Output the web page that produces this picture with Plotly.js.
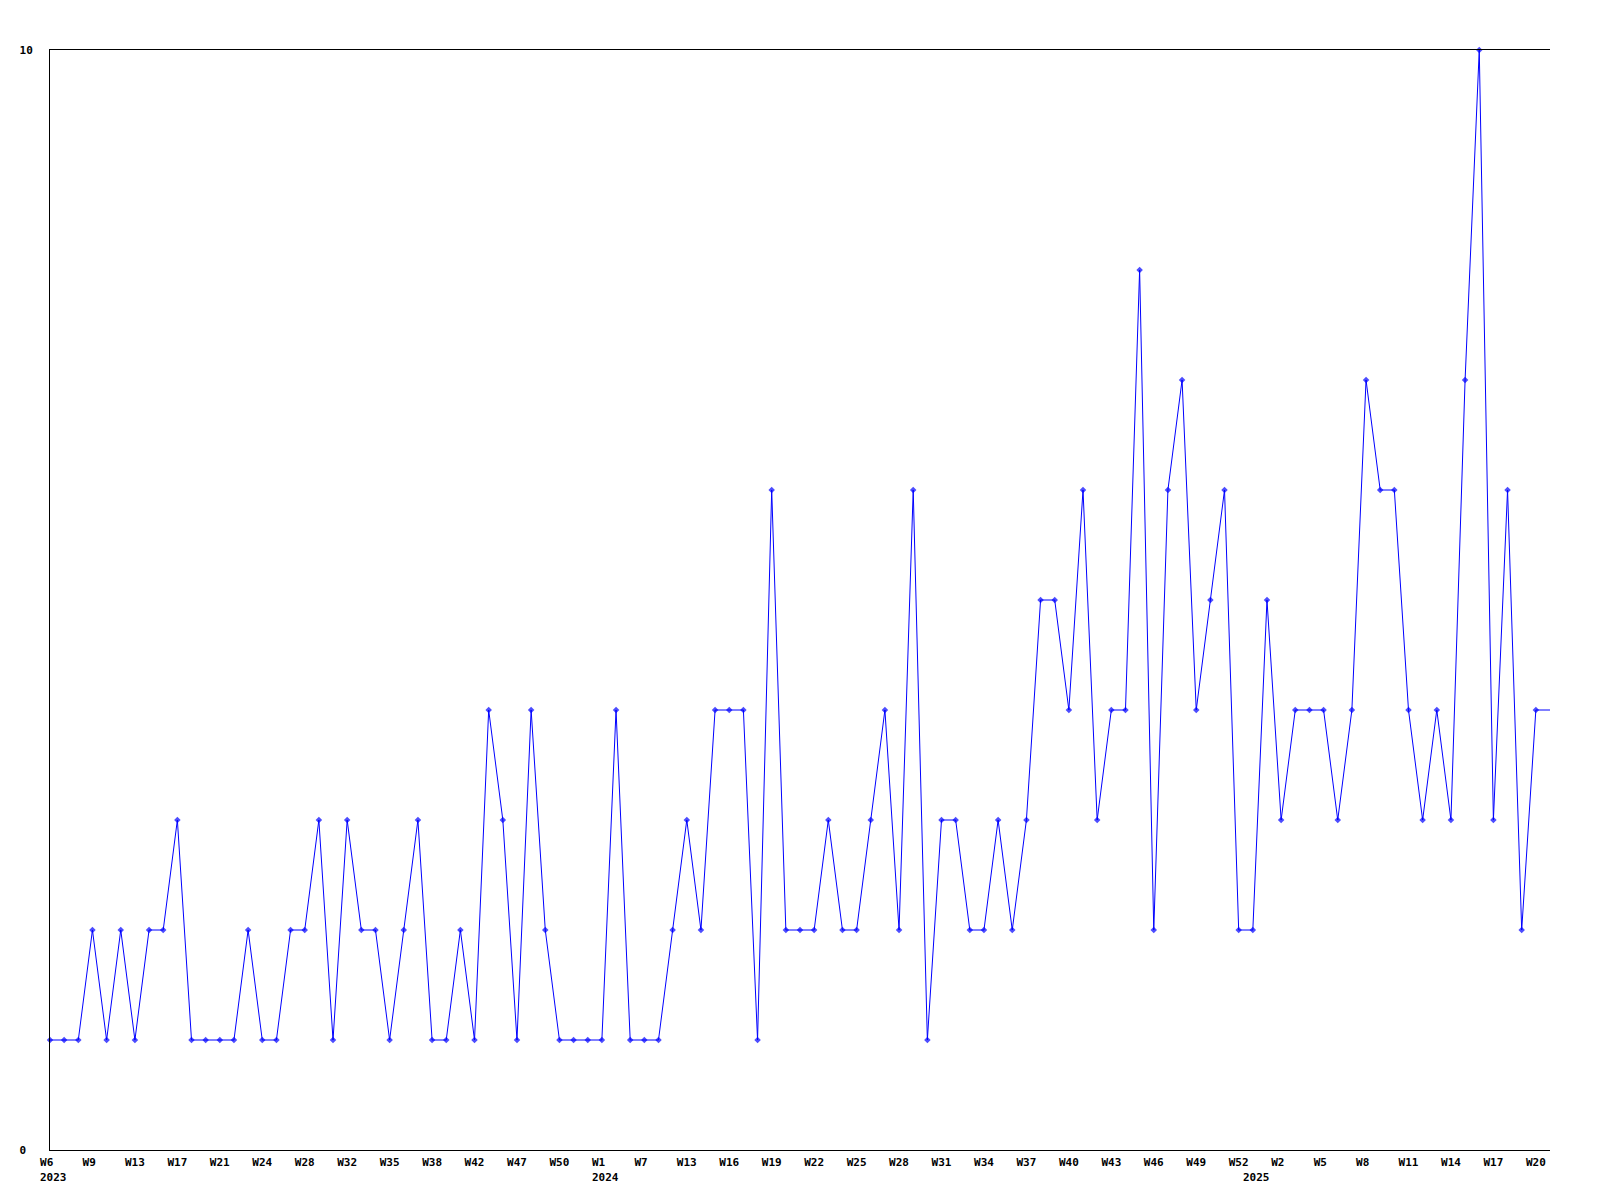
<!DOCTYPE html>
<html>
<head>
<meta charset="utf-8">
<script src="https://cdn.plot.ly/plotly-3.0.1.min.js"></script>
<style>
  html, body { margin: 0; padding: 0; background: #ffffff; }
  #chart { width: 1600px; height: 1200px; }
</style>
</head>
<body>
<div id="chart"></div>
<script>
// Weekly counts, one value per data point (in order)
const values = [
  1,1,1,2,1,2,1,2,2,3,
  1,1,1,1,2,1,1,2,2,3,
  1,3,2,2,1,2,3,1,1,2,
  1,4,3,1,4,2,1,1,1,1,
  4,1,1,1,2,3,2,4,4,4,
  1,6,2,2,2,3,2,2,3,4,
  2,6,1,3,3,2,2,3,2,3,
  5,5,4,6,3,4,4,8,2,6,
  7,4,5,6,2,2,5,3,4,4,
  4,3,4,7,6,6,4,3,4,3,
  7,10,3,6,2,4,4
];

// Week tick labels, shown on every third point
const weekLabels = ['W6','W9','W13','W17','W21','W24','W28','W32','W35','W38','W42','W47',
  'W50','W1','W7','W13','W16','W19','W22','W25','W28','W31','W34','W37','W40','W43',
  'W46','W49','W52','W2','W5','W8','W11','W14','W17','W20'];
const weekLabelStep = 3;

// Year labels and the point where each year starts
const yearLabels = ['2023','2024','2025'];
const yearStartPoint = [0, 39, 85];

// Y axis tick labels
const yTickValues = [0, 10];
const yTickLabels = ['0', '10'];

const NBSP = '\u00a0';
const xs = values.map((_, i) => i);
const tickvals = weekLabels.map((_, k) => k * weekLabelStep);
const ticktext = weekLabels.map(t => t.padEnd(3, NBSP));
const markerSizes = values.map((_, i) => (i === values.length - 1 ? 0 : 5));

const labelFont = { family: 'DejaVu Sans Mono, Liberation Mono, monospace', size: 11, color: '#000000', weight: 'bold' };

const trace = {
  type: 'scatter',
  mode: 'lines+markers',
  x: xs,
  y: values,
  line: { color: '#0000ff', width: 1 },
  marker: { color: '#0000ff', symbol: 'diamond', size: markerSizes, line: { width: 0 } },
  cliponaxis: false,
  hoverinfo: 'skip'
};

const annotations = yearLabels.map((t, k) => ({
  x: yearStartPoint[k],
  xref: 'x',
  y: 0,
  yref: 'paper',
  text: t,
  showarrow: false,
  xanchor: 'left',
  yanchor: 'middle',
  xshift: -12,
  yshift: -27,
  font: labelFont
}));

const layout = {
  width: 1600,
  height: 1200,
  paper_bgcolor: '#ffffff',
  plot_bgcolor: '#ffffff',
  showlegend: false,
  margin: { l: 50, r: 50, t: 50, b: 50, pad: 0 },
  xaxis: {
    type: 'linear',
    range: [0, values.length - 1],
    tickmode: 'array',
    tickvals: tickvals,
    ticktext: ticktext,
    tickangle: 0,
    showgrid: false,
    zeroline: false,
    showline: true,
    linecolor: '#000000',
    linewidth: 1,
    mirror: true,
    ticks: '',
    ticklabelstandoff: 2,
    tickfont: labelFont,
    fixedrange: true
  },
  yaxis: {
    type: 'linear',
    range: [0, 10],
    tickmode: 'array',
    tickvals: yTickValues,
    ticktext: yTickLabels.map(t => t.padEnd(2, NBSP)),
    showgrid: false,
    zeroline: false,
    showline: true,
    linecolor: '#000000',
    linewidth: 1,
    mirror: false,
    ticks: '',
    ticklabelstandoff: 14,
    tickfont: labelFont,
    fixedrange: true
  },
  annotations: annotations
};

Plotly.newPlot('chart', [trace], layout, { displayModeBar: false, staticPlot: true });
</script>
</body>
</html>
